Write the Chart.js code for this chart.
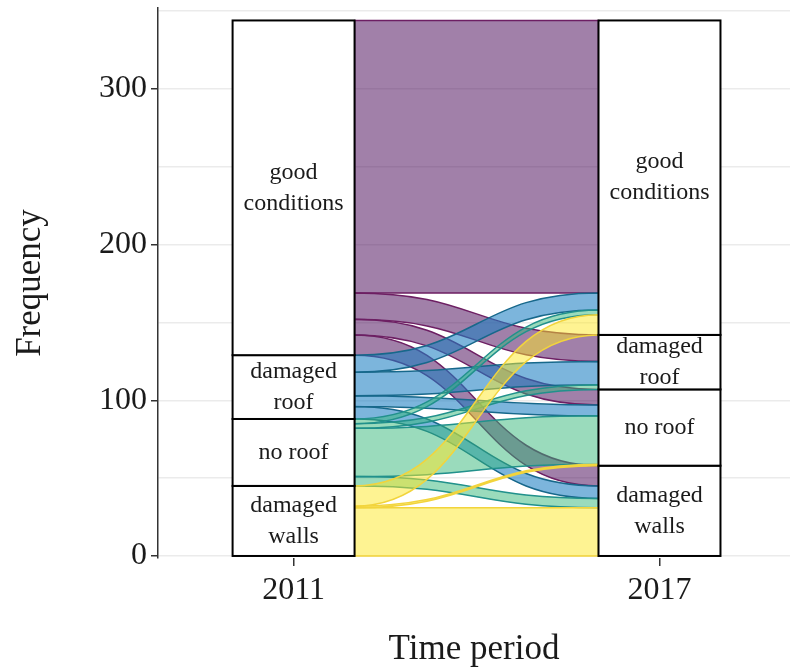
<!DOCTYPE html>
<html>
<head>
<meta charset="utf-8">
<script src="https://cdn.jsdelivr.net/npm/chart.js@4.4.1/dist/chart.umd.min.js"></script>
<style>
  html, body { margin: 0; padding: 0; background: #fff; }
  canvas { display: block; }
</style>
</head>
<body>
<canvas id="alluvial" width="794" height="671"></canvas>
<script>
// time periods (x axis)
const years = [2011, 2017];
// strata, bottom to top
const categories = ['damaged walls', 'no roof', 'damaged roof', 'good conditions'];
const boxLabels = [['damaged', 'walls'], ['no roof'], ['damaged', 'roof'], ['good', 'conditions']];

// counts going from each 2011 stratum to each 2017 stratum (same order as categories)
const fromDamagedWalls = [31, 1, 0, 13];
const fromNoRoof = [6, 31, 3, 3];
const fromDamagedRoof = [8, 7, 15, 11];
const fromGoodConditions = [13, 10, 17, 175];
const flows = [fromDamagedWalls, fromNoRoof, fromDamagedRoof, fromGoodConditions];

const yTicks = [0, 100, 200, 300];
const yGrid = [0, 50, 100, 150, 200, 250, 300, 350];

const fills = ['rgba(253,231,37,0.5)', 'rgba(53,183,121,0.5)', 'rgba(30,128,195,0.58)', 'rgba(68,1,84,0.5)'];
const strokes = ['#f2d43c', '#21918c', '#17688b', '#6d1f63'];

const serif = 'Liberation Serif';

function sum(a) { return a.reduce((s, v) => s + v, 0); }

const leftTotals = flows.map(row => sum(row));
const rightTotals = categories.map((c, j) => sum(flows.map(row => row[j])));

function bases(totals) {
  let acc = 0;
  return totals.map(t => { const b = acc; acc += t; return b; });
}

const alluvialPlugin = {
  id: 'alluvial',
  beforeDatasetsDraw(chart) {
    const { ctx, chartArea, scales: { x, y } } = chart;
    const x0 = x.getPixelForValue(years[0] + 1);
    const x1 = x.getPixelForValue(years[1] - 1);
    const xm = (x0 + x1) / 2;
    const lb = bases(leftTotals);
    const rb = bases(rightTotals);

    // lay out each flow's band on both sides
    const bands = [];
    flows.forEach((row, i) => {
      row.forEach((n, j) => {
        if (!n) return;
        const lo0 = lb[i] + sum(row.slice(0, j));
        const lo1 = rb[j] + sum(flows.slice(0, i).map(r => r[j]));
        bands.push({ i, n, lo0, lo1 });
      });
    });

    ctx.save();
    ctx.beginPath();
    ctx.rect(chartArea.left, chartArea.top, chartArea.width, chartArea.height);
    ctx.clip();
    // draw top stratum flows first so lower ones sit above them
    [3, 2, 1, 0].forEach(i => {
      bands.filter(b => b.i === i).forEach(b => {
        const a0 = y.getPixelForValue(b.lo0), a1 = y.getPixelForValue(b.lo1);
        const t0 = y.getPixelForValue(b.lo0 + b.n), t1 = y.getPixelForValue(b.lo1 + b.n);
        ctx.beginPath();
        ctx.moveTo(x0, t0);
        ctx.bezierCurveTo(xm, t0, xm, t1, x1, t1);
        ctx.lineTo(x1, a1);
        ctx.bezierCurveTo(xm, a1, xm, a0, x0, a0);
        ctx.closePath();
        ctx.fillStyle = fills[i];
        ctx.fill();
        ctx.lineWidth = 1.5;
        ctx.strokeStyle = strokes[i];
        ctx.stroke();
      });
    });
    ctx.restore();

    // strata boxes with labels
    ctx.save();
    [leftTotals, rightTotals].forEach((totals, k) => {
      const bl = bases(totals);
      const xl = x.getPixelForValue(years[k] - 1);
      const xr = x.getPixelForValue(years[k] + 1);
      totals.forEach((t, c) => {
        const yt = y.getPixelForValue(bl[c] + t);
        const yb = y.getPixelForValue(bl[c]);
        ctx.fillStyle = '#fff';
        ctx.fillRect(xl, yt, xr - xl, yb - yt);
        ctx.lineWidth = 2;
        ctx.strokeStyle = '#000';
        ctx.strokeRect(xl, yt, xr - xl, yb - yt);
        const lines = boxLabels[c];
        const mid = (yt + yb) / 2;
        ctx.fillStyle = '#1a1a1a';
        ctx.font = '24px "' + serif + '"';
        ctx.textAlign = 'center';
        ctx.textBaseline = 'middle';
        lines.forEach((s, m) => {
          ctx.fillText(s, (xl + xr) / 2, mid + (m - (lines.length - 1) / 2) * 31);
        });
      });
    });
    ctx.restore();
  }
};

new Chart(document.getElementById('alluvial'), {
  type: 'scatter',
  data: { datasets: [{ data: [], pointRadius: 0 }] },
  plugins: [alluvialPlugin],
  options: {
    responsive: false,
    animation: false,
    devicePixelRatio: 1,
    layout: { padding: { top: 8, right: 4, left: 0, bottom: 0 } },
    plugins: { legend: { display: false }, tooltip: { enabled: false } },
    scales: {
      x: {
        type: 'linear',
        min: 2008.777,
        max: 2019.14,
        afterBuildTicks: s => { s.ticks = years.map(v => ({ value: v })); },
        afterFit: s => { s.height = 113; },
        ticks: { callback: v => String(v), font: { family: serif, size: 32 }, color: '#1a1a1a', padding: 5, maxRotation: 0 },
        grid: { drawOnChartArea: false, drawTicks: true, tickLength: 8, color: '#333', lineWidth: 1.5 },
        border: { display: false },
        title: { display: true, text: 'Time period', font: { family: serif, size: 35 }, color: '#1a1a1a', padding: { top: 0, bottom: 0 } }
      },
      y: {
        min: -1.3,
        max: 352,
        afterBuildTicks: s => { s.ticks = yGrid.map(v => ({ value: v })); },
        afterFit: s => { s.width = 158; s.paddingTop = 0; s.paddingBottom = 0; },
        ticks: { callback: v => (yTicks.includes(v) ? String(v) : ''), font: { family: serif, size: 32 }, color: '#1a1a1a', padding: 4 },
        grid: {
          color: '#ebebeb',
          lineWidth: 1.5,
          tickLength: 7,
          tickColor: c => (yTicks.includes(c.tick.value) ? '#333' : 'rgba(0,0,0,0)')
        },
        border: { display: true, color: '#333', width: 1.5 },
        title: { display: true, text: 'Frequency', font: { family: serif, size: 35 }, color: '#1a1a1a', padding: { top: 10, bottom: 0 } }
      }
    }
  }
});
</script>
</body>
</html>
